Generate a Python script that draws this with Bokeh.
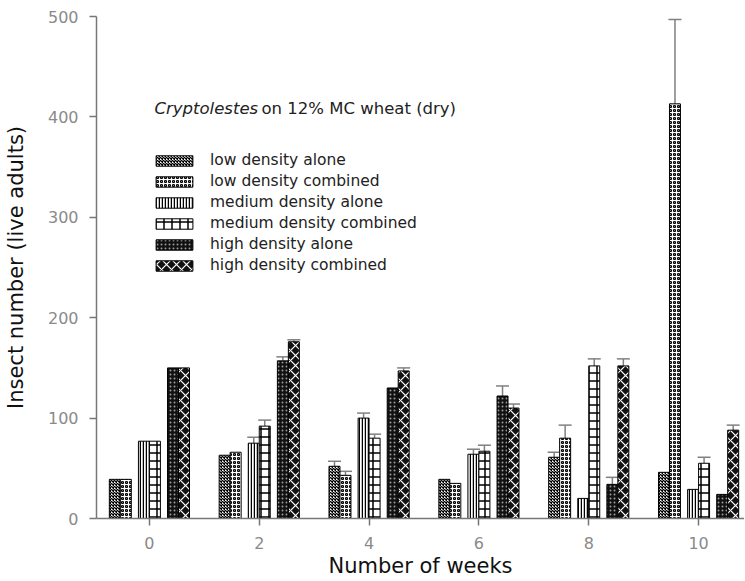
from bokeh.plotting import figure
from bokeh.models import (ColumnDataSource, Range1d, FixedTicker, Legend, LegendItem,
                          Label, Whisker, TeeHead)
from bokeh.transform import dodge
from bokeh.embed import file_html
from bokeh.resources import INLINE

# ---- data -------------------------------------------------------------
weeks = [0, 2, 4, 6, 8, 10]
week_ticks = [0, 2, 4, 6, 8, 10]
y_ticks = [0, 100, 200, 300, 400, 500]

series_names = ["low density alone", "low density combined",
                "medium density alone", "medium density combined",
                "high density alone", "high density combined"]

low_alone = [39, 63, 52, 39, 61, 46]
low_alone_err = [0, 0, 5, 0, 5, 0]
low_comb = [39, 66, 43, 35, 80, 413]
low_comb_err = [0, 0, 4, 0, 13, 84]
med_alone = [77, 75, 100, 64, 20, 29]
med_alone_err = [0, 6, 5, 5, 0, 0]
med_comb = [77, 92, 80, 67, 152, 55]
med_comb_err = [0, 6, 4, 6, 7, 6]
high_alone = [150, 157, 130, 122, 34, 24]
high_alone_err = [0, 4, 0, 10, 7, 0]
high_comb = [150, 176, 147, 110, 152, 88]
high_comb_err = [0, 2, 3, 4, 7, 5]

values = [low_alone, low_comb, med_alone, med_comb, high_alone, high_comb]
errors = [low_alone_err, low_comb_err, med_alone_err, med_comb_err,
          high_alone_err, high_comb_err]

title_italic = "Cryptolestes"
title_rest = "on 12% MC wheat (dry)"
x_label = "Number of weeks"
y_label = "Insect number (live adults)"

# ---- styles ------------------------------------------------------------
styles = [
    dict(fill_color="white", hatch_pattern="x", hatch_color="black", hatch_scale=3, hatch_weight=1.3),
    dict(fill_color="white", hatch_pattern="o", hatch_color="black", hatch_scale=4, hatch_weight=1.2),
    dict(fill_color="white", hatch_pattern="|", hatch_color="black", hatch_scale=3, hatch_weight=1.5),
    dict(fill_color="white", hatch_pattern="+", hatch_color="black", hatch_scale=8, hatch_weight=1.5),
    dict(fill_color="#111111", hatch_pattern=".", hatch_color="#999999", hatch_scale=4, hatch_weight=1),
    dict(fill_color="#111111", hatch_pattern="x", hatch_color="white", hatch_scale=10, hatch_weight=1.2),
]
pair_off = [-0.53, 0.0, 0.53]
member_off = [-0.1, 0.1]
bar_w = 0.2

p = figure(width=744, height=580,
           x_range=Range1d(-0.9636, 10.836), y_range=Range1d(0, 500),
           output_backend="svg", toolbar_location=None,
           min_border_left=95, min_border_right=0, min_border_top=16, min_border_bottom=0)
p.grid.visible = False
p.outline_line_color = None
p.background_fill_color = "white"

renderers = []
for i, (vals, errs) in enumerate(zip(values, errors)):
    off = pair_off[i // 2] + member_off[i % 2]
    src = ColumnDataSource(dict(week=weeks, top=vals))
    r = p.vbar(x=dodge("week", off, range=p.x_range), top="top", bottom=0, width=bar_w,
               source=src, line_color="black", line_width=1, **styles[i])
    renderers.append(r)
    ew = [w for w, e in zip(weeks, errs) if e > 0]
    el = [v for v, e in zip(vals, errs) if e > 0]
    eu = [v + e for v, e in zip(vals, errs) if e > 0]
    if ew:
        esrc = ColumnDataSource(dict(week=ew, lower=el, upper=eu))
        wk = Whisker(source=esrc, base=dodge("week", off, range=p.x_range),
                     lower="lower", upper="upper", dimension="height",
                     line_color="#808080", line_width=1.5,
                     upper_head=TeeHead(size=13, line_color="#808080", line_width=1.5),
                     lower_head=None)
        p.add_layout(wk)

# ---- axes ---------------------------------------------------------------
p.xaxis.ticker = FixedTicker(ticks=week_ticks)
p.yaxis.ticker = FixedTicker(ticks=y_ticks)
for ax in (p.xaxis, p.yaxis):
    ax.axis_line_color = "#777777"
    ax.axis_line_width = 1.5
    ax.major_tick_line_color = "#777777"
    ax.major_tick_line_width = 1.5
    ax.major_tick_out = 7
    ax.major_tick_in = 0
    ax.minor_tick_line_color = None
    ax.major_label_text_font = "DejaVu Sans"
    ax.major_label_text_font_size = "16px"
    ax.major_label_text_color = "#8a8a8a"
    ax.axis_label_text_font = "DejaVu Sans"
    ax.axis_label_text_font_size = "21px"
    ax.axis_label_text_font_style = "normal"
    ax.axis_label_text_color = "#111111"
p.xaxis.axis_label = x_label
p.yaxis.axis_label = y_label
p.xaxis.major_label_standoff = 11
p.xaxis.axis_label_standoff = 2
p.yaxis.major_label_standoff = 11
p.yaxis.axis_label_standoff = 17

# ---- legend -----------------------------------------------------------
legend = Legend(items=[LegendItem(label=n, renderers=[r]) for n, r in zip(series_names, renderers)],
                location=(55, 244), orientation="vertical",
                glyph_width=46, glyph_height=13, label_height=13, spacing=3,
                label_standoff=13, padding=0, margin=0,
                label_text_font="DejaVu Sans", label_text_font_size="15.5px",
                label_text_color="#222222",
                border_line_color=None, background_fill_alpha=0)
p.add_layout(legend)

p.add_layout(Label(x=58, y=410, x_units="screen", y_units="screen", text=title_italic,
                   text_font="DejaVu Sans", text_font_size="16.5px", text_font_style="italic",
                   text_color="#222222", text_baseline="middle"))
p.add_layout(Label(x=165, y=410, x_units="screen", y_units="screen", text=title_rest,
                   text_font="DejaVu Sans", text_font_size="16.5px",
                   text_color="#222222", text_baseline="middle"))

open("out.html", "w").write(file_html(p, INLINE))
